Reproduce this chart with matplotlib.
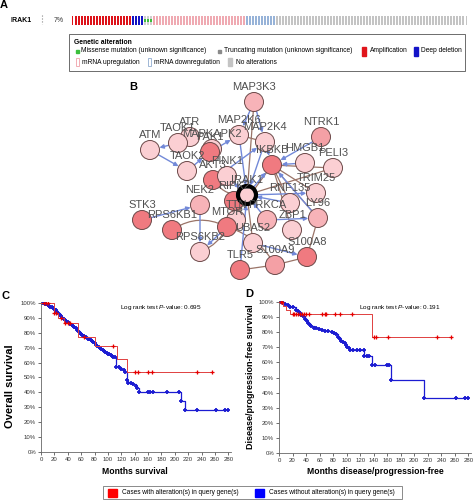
import numpy as np
import matplotlib
matplotlib.use("Agg")
import matplotlib.pyplot as plt
from matplotlib.patches import Rectangle, Circle, FancyArrowPatch

plt.rcParams['font.family'] = ['Liberation Sans', 'DejaVu Sans']
plt.rcParams['mathtext.fontset'] = 'custom'
plt.rcParams['mathtext.rm'] = 'Liberation Sans'
plt.rcParams['mathtext.it'] = 'Liberation Sans:italic'

W, H = 473, 500

# ---------------- data ----------------
# A: oncoprint track (number of samples per alteration type, in drawing order)
alt_types = ['Amplification', 'Deep deletion', 'Missense mutation',
             'mRNA upregulation', 'mRNA downregulation', 'No alterations']
alt_counts = [20, 4, 3, 31, 10, 64]
alt_pct = '7%'

# B: network nodes (layout position, shade) and edges
node_names = ['MAP3K3', 'NTRK1', 'MAP2K6', 'MAP2K4', 'ATR', 'TAOK1', 'ATM',
              'MAPKAPK2', 'PAK1', 'TAOK2', 'AKT3', 'PINK1', 'IKBKB', 'HMGB1',
              'PELI3', 'TRIM25', 'RNF135', 'RIPK2', 'NEK2', 'STK3', 'RPS6KB1',
              'TTN', 'MTOR', 'PRKCA', 'LY96', 'ZBP1', 'UBA52', 'RPS6KB2',
              'S100A8', 'S100A9', 'TLR5', 'IRAK1']
node_x = [254, 321, 239, 265, 190, 178, 150, 212, 210, 187, 213, 227, 272, 305,
          333, 316, 290, 234, 200, 142, 172, 236, 227, 267, 318, 292, 253, 200,
          307, 275, 240, 247]
node_y = [102, 137, 135, 142, 137, 143, 150, 149, 152, 171, 180, 176, 165, 163,
          168, 193, 203, 201, 205, 220, 230, 220, 227, 220, 218, 230, 243, 252,
          257, 265, 270, 195]
node_shade = [1, 2, 0, 0, 0, 0, 0, 0, 3, 0, 3, 0, 3, 0,
              0, 0, 0, 3, 1, 3, 3, 0, 3, 1, 1, 0, 0, 0,
              3, 2, 3, 0]
blue_edges = [('TAOK1', 'ATM'), ('ATM', 'TAOK2'), ('PAK1', 'MAP2K6'),
              ('MAP3K3', 'MAP2K6'), ('MAP3K3', 'MAP2K4'), ('MAP2K4', 'IKBKB'),
              ('NTRK1', 'IKBKB'), ('HMGB1', 'IKBKB'), ('IRAK1', 'IKBKB'),
              ('PINK1', 'IRAK1'), ('RNF135', 'IRAK1'), ('PRKCA', 'IRAK1'),
              ('TLR5', 'IRAK1'), ('STK3', 'NEK2'), ('NEK2', 'RPS6KB2'),
              ('MTOR', 'RPS6KB2'), ('PRKCA', 'LY96'), ('UBA52', 'S100A8'),
              ('IRAK1', 'TRIM25'), ('LY96', 'IKBKB'), ('MAP2K6', 'IRAK1'),
              ('AKT3', 'MAP2K4'), ('TAOK2', 'PAK1'), ('MAP2K4', 'IRAK1')]
brown_edges = [('MAP3K3', 'IRAK1', 0.0), ('IKBKB', 'TRIM25', 0.0),
               ('IKBKB', 'PELI3', 0.0), ('IKBKB', 'RNF135', 0.0),
               ('IKBKB', 'LY96', 0.0), ('IRAK1', 'PELI3', 0.0),
               ('RPS6KB1', 'MTOR', -0.3), ('RPS6KB2', 'MTOR', 0.2),
               ('S100A9', 'S100A8', 0.0), ('S100A8', 'LY96', 0.0),
               ('TLR5', 'S100A9', 0.0), ('UBA52', 'IRAK1', 0.0),
               ('TTN', 'IRAK1', 0.0), ('MTOR', 'IKBKB', 0.0),
               ('AKT3', 'IRAK1', 0.3), ('MAP2K4', 'MAP2K6', 0.0),
               ('MTOR', 'S100A9', -0.2), ('ZBP1', 'IKBKB', 0.0)]

# C: overall survival (step curves) and censor times
c_alt_t = [0, 19, 25, 34, 55, 80, 114, 128, 255]
c_alt_s = [100, 93.5, 90, 86.5, 77, 71, 62.5, 53.5, 53.5]
c_alt_cens = [4, 7, 10, 20, 22, 30, 36, 40, 43, 65, 108, 140, 145, 160, 166, 233, 255]
c_no_t = [0, 2, 4, 6, 8, 10, 12, 14, 16, 18, 20, 22, 24, 26, 28, 30, 32, 34, 36,
          38, 40, 42, 44, 46, 48, 50, 52, 54, 56, 58, 60, 62, 64, 66, 68, 70, 72,
          74, 76, 78, 80, 82, 84, 86, 88, 90, 92, 94, 96, 98, 100, 102, 104, 106,
          108, 110, 112, 116, 120, 124, 126, 128, 130, 134, 138, 142, 144, 146,
          160, 163, 168, 188, 207, 210, 215, 233, 262, 275, 280]
c_no_s = [100, 100, 100, 99.5, 99, 98.5, 98, 97.5, 97, 96.5, 96, 95, 94, 93, 92,
          91, 90, 89, 88.5, 88, 87, 86.5, 86, 85, 84.5, 84, 83, 82, 81, 80, 79.5,
          78.5, 78, 77.5, 77, 76, 75.5, 75, 74.5, 74, 73, 72, 71, 70.5, 70, 69,
          68.5, 68, 67, 66.5, 66, 65.5, 65, 64.5, 64, 63.5, 57, 57, 56, 55, 54,
          48, 46.5, 46, 45.5, 44, 43, 40, 40, 40, 40, 40, 40, 34, 28.5, 28.5,
          28.5, 28.5, 28.5]

# D: disease/progression-free survival
d_alt_t = [0, 6, 11, 16, 138, 255]
d_alt_s = [100, 97.5, 95, 92, 76.5, 76.5]
d_alt_cens = [3, 5, 20, 22, 25, 28, 31, 34, 37, 40, 44, 63, 68, 70, 83, 90, 108,
              140, 143, 161, 233, 255]
d_no_t = [0, 3, 6, 9, 13, 17, 21, 25, 28, 31, 33, 36, 38, 41, 43, 46, 48, 52, 55,
          59, 63, 68, 73, 78, 82, 85, 87, 90, 92, 95, 97, 99, 101, 103, 105, 110,
          115, 120, 125, 126, 130, 133, 138, 142, 160, 163, 166, 215, 262, 275, 280]
d_no_s = [100, 100, 99.5, 99, 98, 97, 96.5, 95, 94, 93, 91.5, 90.5, 89, 87.5, 86,
          85, 84, 83, 82.7, 82, 81.6, 81, 80.5, 80, 79.8, 78.5, 77, 75.5, 74.5,
          73.5, 72.7, 71.5, 70.5, 69.5, 68.5, 68.5, 68.5, 68.5, 68.5, 64, 64, 64,
          58.5, 58.5, 58.5, 58.5, 48.5, 36.5, 36.5, 36.5, 36.5]

RED = '#e60000'
BLUE = '#1c1cd2'


def px_axes(x, y, w, h):
    return fig.add_axes([x / W, 1 - (y + h) / H, w / W, h / H])


fig = plt.figure(figsize=(W / 100, H / 100), dpi=100)

# ---------------- A: oncoprint ----------------
bar_colors = ['#dd1219', '#1212c4', '#cfcfcf', '#efaab2', '#97b3d8', '#c4c4c4']
n = sum(alt_counts)
kinds = np.repeat(np.arange(len(alt_counts)), alt_counts)
tr = px_axes(71, 16, 397, 9)
tr.bar(np.arange(n), 1, width=0.66, color=[bar_colors[k] for k in kinds])
mis = np.where(kinds == 2)[0]
tr.bar(mis, 0.36, bottom=0.32, width=0.66, color='#3cbf3c')
tr.set_xlim(-0.5, n - 0.5)
tr.set_ylim(0, 1)
tr.axis('off')

# ---------------- B: network ----------------
net = px_axes(125, 80, 230, 205)
net.set_xlim(125, 355)
net.set_ylim(285, 80)
net.axis('off')
pos = {nm: (x, y) for nm, x, y in zip(node_names, node_x, node_y)}
shades = ['#fbcfd3', '#f7b3b8', '#f4a0a5', '#f07a80']
for a, b, rad in brown_edges:
    net.add_patch(FancyArrowPatch(pos[a], pos[b], arrowstyle='-',
                                  connectionstyle=f'arc3,rad={rad}',
                                  color='#9a7468', lw=0.9, zorder=1))
for a, b in blue_edges:
    net.add_patch(FancyArrowPatch(pos[a], pos[b], arrowstyle='-|>',
                                  mutation_scale=6, shrinkA=6, shrinkB=7,
                                  color='#7289d8', lw=1.0, zorder=1.5))
for nm, x, y, s in zip(node_names, node_x, node_y, node_shade):
    if nm == 'IRAK1':
        net.add_patch(Circle((x, y), 9, fc=shades[0], ec='black', lw=3, zorder=2))
    else:
        net.add_patch(Circle((x, y), 9.5, fc=shades[s], ec='#6b4848', lw=0.7,
                             zorder=2))
for nm, x, y in zip(node_names, node_x, node_y):
    net.text(x, y - 15, nm, ha='center', va='center', fontsize=8,
             color='#505050', zorder=3)

# ---------------- C / D: survival ----------------
def km_panel(ax, alt_t, alt_s, alt_c, no_t, no_s):
    ax.step(no_t, no_s, where='post', color=BLUE, lw=0.9, zorder=2)
    ax.plot(no_t[1:], no_s[1:], ls='none', marker='+', ms=3, mew=1.3,
            color=BLUE, zorder=2)
    ax.step(alt_t, alt_s, where='post', color='#e04040', lw=0.7, zorder=3)
    idx = np.searchsorted(alt_t, alt_c, side='right') - 1
    ax.plot(alt_c, np.array(alt_s)[idx], ls='none', marker='+', ms=2.5,
            mew=0.9, color=RED, zorder=3)
    ax.set_xlim(0, 284)
    ax.set_ylim(0, 101)
    ax.set_xticks(np.arange(0, 281, 20))
    ax.set_yticks(np.arange(0, 101, 10))
    ax.set_yticklabels([f'{v}%' for v in range(0, 101, 10)])
    ax.tick_params(labelsize=4.3, length=2, width=0.5, pad=1.5,
                   colors='#333333')
    for sp in ['top', 'right']:
        ax.spines[sp].set_visible(False)
    for sp in ['left', 'bottom']:
        ax.spines[sp].set_linewidth(0.6)
        ax.spines[sp].set_color('#666666')


axC = px_axes(41, 301.5, 190, 150.5)
km_panel(axC, c_alt_t, c_alt_s, c_alt_cens, c_no_t, c_no_s)
axD = px_axes(279, 300.5, 192, 152.5)
km_panel(axD, d_alt_t, d_alt_s, d_alt_cens, d_no_t, d_no_s)

# ---------------- overlay texts / legends ----------------
ov = px_axes(0, 0, W, H)
ov.set_xlim(0, W)
ov.set_ylim(H, 0)
ov.axis('off')

ov.text(0, 5, 'A', fontsize=8, fontweight='bold', va='center')
ov.text(129, 87, 'B', fontsize=8, fontweight='bold', va='center')
ov.text(1, 296, 'C', fontsize=8, fontweight='bold', va='center')
ov.text(245, 294, 'D', fontsize=8, fontweight='bold', va='center')

ov.text(10, 20, 'IRAK1', fontsize=5, fontweight='bold', va='center')
ov.plot([42, 42], [15, 24], ls=':', color='#888888', lw=0.8)
ov.text(54, 20.5, alt_pct, fontsize=5, va='center', color='#333333')

# legend of A
ov.add_patch(Rectangle((69, 34), 396, 37, fill=False, ec='#555555', lw=0.6))
ov.text(74, 42, 'Genetic alteration', fontsize=4.9, fontweight='bold', va='center')
fs = 4.8
ov.add_patch(Rectangle((75.5, 49.5), 3, 3, color='#3cbf3c'))
ov.text(81, 51, 'Missense mutation (unknown significance)', fontsize=fs, va='center')
ov.add_patch(Rectangle((217.5, 49.5), 3, 3, color='#8a8a8a'))
ov.text(224, 51, 'Truncating mutation (unknown significance)', fontsize=fs, va='center')
ov.add_patch(Rectangle((362, 46.5), 3.5, 9, color='#e0151b'))
ov.text(370, 51, 'Amplification', fontsize=fs, va='center')
ov.add_patch(Rectangle((414, 46.5), 3.5, 9, color='#1414c8'))
ov.text(421, 51, 'Deep deletion', fontsize=fs, va='center')
ov.add_patch(Rectangle((76, 58), 3, 8, fill=False, ec='#f0a0a8', lw=0.6))
ov.text(82, 62, 'mRNA upregulation', fontsize=fs, va='center')
ov.add_patch(Rectangle((148, 58), 3, 8, fill=False, ec='#90acd0', lw=0.6))
ov.text(154, 62, 'mRNA downregulation', fontsize=fs, va='center')
ov.add_patch(Rectangle((228, 58), 3.5, 8, color='#c4c4c4'))
ov.text(236, 62, 'No alterations', fontsize=fs, va='center')

# axis labels of C / D
ov.text(10, 386, 'Overall survival', rotation=90, fontsize=8, fontweight='bold',
        ha='center', va='center')
ov.text(250, 377, 'Disease/progression-free survival', rotation=90, fontsize=6.5,
        fontweight='bold', ha='center', va='center')
ov.text(135, 471, 'Months survival', fontsize=6.2, fontweight='bold',
        ha='center', va='center')
ov.text(375, 471, 'Months disease/progression-free', fontsize=6.2,
        fontweight='bold', ha='center', va='center')
ov.text(120, 307, 'Log rank test $\\it{P}$-value: 0.695', fontsize=4.6, va='center')
ov.text(359, 307, 'Log rank test $\\it{P}$-value: 0.191', fontsize=4.6, va='center')

# bottom legend
ov.add_patch(Rectangle((103, 486), 299, 12.5, fill=False, ec='#777777', lw=0.6))
ov.add_patch(Rectangle((108, 488.5), 9, 8, color='#ff0000'))
ov.text(122, 492.5, 'Cases with alteration(s) in query gene(s)', fontsize=4.7,
        va='center')
ov.add_patch(Rectangle((255, 488.5), 9, 8, color='#0000ff'))
ov.text(269, 492.5, 'Cases without alteration(s) in query gene(s)', fontsize=4.7,
        va='center')

fig.savefig('out.png', dpi=100)
